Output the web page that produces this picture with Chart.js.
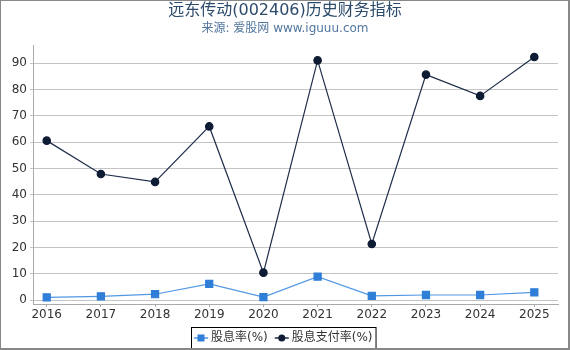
<!DOCTYPE html>
<html>
<head>
<meta charset="utf-8">
<script src="https://cdn.jsdelivr.net/npm/chart.js@4/dist/chart.umd.min.js"></script>
<style>
  body { margin: 0; background: #fff; }
  #wrap {
    width: 570px; height: 350px; box-sizing: border-box;
    border-style: solid; border-color: #888;
    border-width: 1px 2px 2px 1px;
  }
</style>
</head>
<body>
<div id="wrap"><canvas id="chart" width="567" height="347"></canvas></div>
<script>
// chart data
var years = [2016, 2017, 2018, 2019, 2020, 2021, 2022, 2023, 2024, 2025];
var dividend_yield = [1.0, 1.4, 2.2, 6.1, 1.1, 8.9, 1.6, 1.9, 1.9, 2.9];
var payout_ratio = [60.6, 47.9, 44.9, 66.0, 10.4, 91.1, 21.3, 85.7, 77.6, 92.4];
var y_ticks = [0, 10, 20, 30, 40, 50, 60, 70, 80, 90];

var title_text = "远东传动(002406)历史财务指标";
var subtitle_text = "来源: 爱股网 www.iguuu.com";
var label_yield = "股息率(%)";
var label_payout = "股息支付率(%)";

var font_family = "'DejaVu Sans', 'Noto Sans CJK SC', sans-serif";

function to_points(vals) {
  var pts = [];
  for (var i = 0; i < years.length; i++) { pts.push({x: years[i], y: vals[i]}); }
  return pts;
}

// title, subtitle and the boxed legend are drawn here
var deco_plugin = {
  id: "deco",
  afterDraw: function(chart) {
    var ctx = chart.ctx;
    ctx.save();
    ctx.textAlign = "center";
    ctx.textBaseline = "middle";
    ctx.fillStyle = "#2b4a6c";
    ctx.font = "16px " + font_family;
    ctx.fillText(title_text, 284, 10);
    ctx.fillStyle = "#52769e";
    ctx.font = "12px " + font_family;
    ctx.fillText(subtitle_text, 284, 28);

    // legend
    var ds = chart.data.datasets;
    ctx.font = "12px " + font_family;
    ctx.textAlign = "left";
    var x = 193, y = 337;
    var box_left = 190;
    for (var i = 0; i < ds.length; i++) {
      ctx.strokeStyle = ds[i].borderColor;
      ctx.lineWidth = 1.5;
      ctx.beginPath();
      ctx.moveTo(x, y); ctx.lineTo(x + 14, y);
      ctx.stroke();
      ctx.fillStyle = ds[i].pointBackgroundColor;
      if (ds[i].pointStyle === "rect") {
        ctx.fillRect(x + 3.5, y - 3.5, 7, 7);
      } else {
        ctx.beginPath();
        ctx.arc(x + 7, y, 3.5, 0, Math.PI * 2);
        ctx.fill();
      }
      ctx.fillStyle = "#333";
      ctx.fillText(ds[i].label, x + 17, y);
      x += 17 + ctx.measureText(ds[i].label).width + 7;
    }
    ctx.strokeStyle = "#000";
    ctx.lineWidth = 1;
    ctx.strokeRect(box_left + 0.5, 326.5, x - box_left - 4, 22);
    ctx.restore();
  }
};

new Chart("chart", {
  type: "line",
  data: {
    datasets: [{
      label: label_yield,
      data: to_points(dividend_yield),
      borderColor: "#5197e4",
      backgroundColor: "#2f7ed8",
      pointBackgroundColor: "#2f7ed8",
      pointBorderColor: "#2f7ed8",
      pointStyle: "rect",
      pointRadius: 5,
      borderWidth: 1.2,
      tension: 0
    },
    {
      label: label_payout,
      data: to_points(payout_ratio),
      borderColor: "#1e2d4a",
      backgroundColor: "#0d1b33",
      pointBackgroundColor: "#0d1b33",
      pointBorderColor: "#0d1b33",
      pointStyle: "circle",
      pointRadius: 3.7,
      borderWidth: 1.2,
      tension: 0
    }]
  },
  options: {
    responsive: false,
    animation: false,
    layout: {padding: {top: 44, left: 0, right: 10, bottom: 22}},
    plugins: {
      legend: {display: false},
      title: {display: false},
      tooltip: {enabled: false}
    },
    scales: {
      x: {
        type: "linear",
        min: 2015.747,
        max: 2025.437,
        afterBuildTicks: function(scale) {
          scale.ticks = years.map(function(v) { return {value: v}; });
        },
        afterFit: function(scale) { scale.height = 22; },
        ticks: {
          callback: function(v) { return String(v); },
          color: "#333",
          font: {family: font_family, size: 12},
          padding: 1,
          maxRotation: 0,
          autoSkip: false
        },
        grid: {drawOnChartArea: false, drawTicks: true, tickLength: 3, color: "#aaa"},
        border: {color: "#aaa"}
      },
      y: {
        min: -1.52,
        max: 96.96,
        afterBuildTicks: function(scale) {
          scale.ticks = y_ticks.map(function(v) { return {value: v}; });
        },
        afterFit: function(scale) { scale.width = 32; },
        ticks: {
          color: "#333",
          font: {family: font_family, size: 12},
          padding: 3
        },
        grid: {color: "#c4c4c4", tickLength: 3},
        border: {color: "#aaa"}
      }
    }
  },
  plugins: [deco_plugin]
});
</script>
</body>
</html>
